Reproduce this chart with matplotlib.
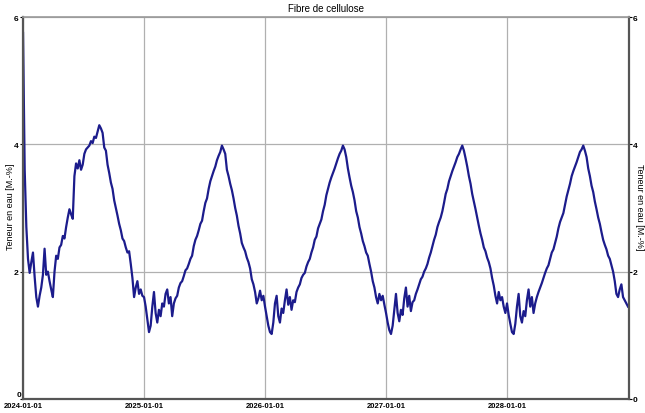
import numpy as np
import pandas as pd
import matplotlib
matplotlib.use('Agg')
import matplotlib.pyplot as plt
import matplotlib.dates as mdates
from matplotlib.transforms import ScaledTranslation

plt.rcParams['font.family'] = ['Liberation Sans', 'DejaVu Sans']

# water content [M.-%], one value every 5 days from 2024-01-01
vals_2024 = [5.75, 3.6, 2.7, 2.2, 1.98, 2.15, 2.3, 1.92, 1.6, 1.45,
             1.62, 1.75, 1.95, 2.36, 1.95, 2.0, 1.85, 1.72, 1.6, 2.0,
             2.25, 2.2, 2.38, 2.42, 2.56, 2.52, 2.7, 2.85, 2.98, 2.9,
             2.83, 3.5, 3.7, 3.62, 3.75, 3.6, 3.68, 3.85, 3.92, 3.95,
             3.98, 4.05, 4.02, 4.12, 4.1, 4.2, 4.3, 4.25, 4.18, 3.95,
             3.9, 3.68, 3.55, 3.4, 3.3, 3.12, 3.0, 2.88, 2.75, 2.65,
             2.52, 2.48, 2.38, 2.3, 2.32, 2.12, 1.9, 1.6, 1.75, 1.85,
             1.65, 1.72, 1.62]
vals_2025 = [1.6, 1.45, 1.25, 1.05, 1.15, 1.45, 1.68, 1.35, 1.2, 1.4,
             1.3, 1.5, 1.45, 1.65, 1.72, 1.5, 1.6, 1.3, 1.5, 1.58,
             1.62, 1.75, 1.82, 1.85, 1.93, 2.02, 2.05, 2.12, 2.2, 2.25,
             2.4, 2.5, 2.56, 2.65, 2.75, 2.8, 2.95, 3.08, 3.15, 3.3,
             3.42, 3.5, 3.58, 3.65, 3.75, 3.82, 3.88, 3.98, 3.92, 3.85,
             3.6, 3.5, 3.38, 3.28, 3.15, 3.0, 2.88, 2.72, 2.6, 2.45,
             2.38, 2.32, 2.22, 2.15, 2.05, 1.88, 1.8, 1.68, 1.5, 1.58,
             1.7, 1.55, 1.62]
vals_2026 = [1.45, 1.3, 1.15, 1.05, 1.02, 1.2, 1.5, 1.62, 1.3, 1.2,
             1.42, 1.35, 1.55, 1.72, 1.48, 1.6, 1.4, 1.55, 1.52, 1.68,
             1.75, 1.8, 1.9, 1.95, 1.98, 2.08, 2.15, 2.2, 2.3, 2.38,
             2.5, 2.55, 2.68, 2.75, 2.82, 2.95, 3.05, 3.2, 3.3, 3.4,
             3.48, 3.55, 3.62, 3.7, 3.78, 3.85, 3.9, 3.98, 3.92, 3.8,
             3.62, 3.48, 3.35, 3.25, 3.12, 2.95, 2.85, 2.7, 2.6, 2.48,
             2.4, 2.3, 2.25, 2.12, 2.0, 1.85, 1.75, 1.6, 1.5, 1.65,
             1.55, 1.62, 1.48]
vals_2027 = [1.35, 1.2, 1.08, 1.02, 1.15, 1.4, 1.65, 1.35, 1.22, 1.4,
             1.32, 1.58, 1.75, 1.45, 1.62, 1.38, 1.52, 1.55, 1.65, 1.72,
             1.8, 1.88, 1.92, 2.0, 2.05, 2.12, 2.22, 2.3, 2.4, 2.5,
             2.58, 2.7, 2.78, 2.85, 2.95, 3.08, 3.22, 3.3, 3.42, 3.5,
             3.58, 3.65, 3.72, 3.8, 3.85, 3.92, 3.98, 3.9, 3.78, 3.65,
             3.5, 3.38, 3.22, 3.1, 2.98, 2.85, 2.72, 2.6, 2.5, 2.38,
             2.32, 2.22, 2.15, 2.05, 1.9, 1.78, 1.62, 1.5, 1.68, 1.55,
             1.6, 1.45, 1.35]
vals_2028 = [1.5, 1.32, 1.18, 1.05, 1.02, 1.18, 1.45, 1.65, 1.3, 1.2,
             1.38, 1.3, 1.55, 1.72, 1.45, 1.6, 1.35, 1.5, 1.6, 1.68,
             1.75, 1.82, 1.9, 1.98, 2.05, 2.1, 2.2, 2.3, 2.35, 2.45,
             2.55, 2.68, 2.78, 2.85, 2.92, 3.05, 3.18, 3.28, 3.38, 3.5,
             3.58, 3.65, 3.72, 3.8, 3.88, 3.92, 3.98, 3.9, 3.8, 3.62,
             3.5, 3.35, 3.25, 3.1, 2.98, 2.85, 2.75, 2.62, 2.5, 2.42,
             2.35, 2.25, 2.2, 2.1, 2.0, 1.85, 1.65, 1.6, 1.72, 1.8,
             1.6, 1.55, 1.5, 1.45]

values = vals_2024 + vals_2025 + vals_2026 + vals_2027 + vals_2028
dates = pd.date_range('2024-01-01', periods=len(values), freq='5D')

year_ticks = pd.to_datetime(['2024-01-01', '2025-01-01', '2026-01-01',
                             '2027-01-01', '2028-01-01'])
y_ticks = [0, 2, 4, 6]
ylabel = 'Teneur en eau [M.-%]'

fig = plt.figure(figsize=(6.45, 4.14), dpi=100)
ax = fig.add_axes([0.0357, 0.034, 0.939, 0.9225])

ax.plot(dates, values, color='#1c1c8c', linewidth=1.6)

ax.set_xlim(pd.Timestamp('2024-01-01'), pd.Timestamp('2029-01-01'))
ax.set_ylim(0, 6)
ax.set_xticks(year_ticks)
ax.xaxis.set_major_formatter(mdates.DateFormatter('%Y-%m-%d'))
ax.set_yticks(y_ticks)

ax.grid(True, color='#b0b0b0', linewidth=0.9)
ax.set_axisbelow(True)

for side in ['left', 'right', 'bottom']:
    ax.spines[side].set_color('#555555')
    ax.spines[side].set_linewidth(1.6)
ax.spines['top'].set_color('#999999')
ax.spines['top'].set_linewidth(1.2)

ax.tick_params(axis='x', length=0, pad=2, labelsize=5.5)
ax.tick_params(axis='y', length=2, pad=1, labelsize=6,
               left=True, right=True, labelleft=True, labelright=True)
for lbl in ax.get_xticklabels() + ax.get_yticklabels():
    lbl.set_fontweight('bold')

# lift the left "0" above the date label, as in the original
fig.canvas.draw()
zero_lbl = ax.yaxis.get_majorticklabels()[0]
zero_lbl.set_transform(zero_lbl.get_transform() +
                       ScaledTranslation(0.03, 0.05, fig.dpi_scale_trans))

fig.text(0.016, 0.5, ylabel, rotation=90, fontsize=6.5,
         ha='center', va='center')
fig.text(0.991, 0.5, ylabel, rotation=-90, fontsize=6.5,
         ha='center', va='center')

ax.set_title('Fibre de cellulose', fontsize=7, pad=4)

fig.savefig('out.png', dpi=100)
